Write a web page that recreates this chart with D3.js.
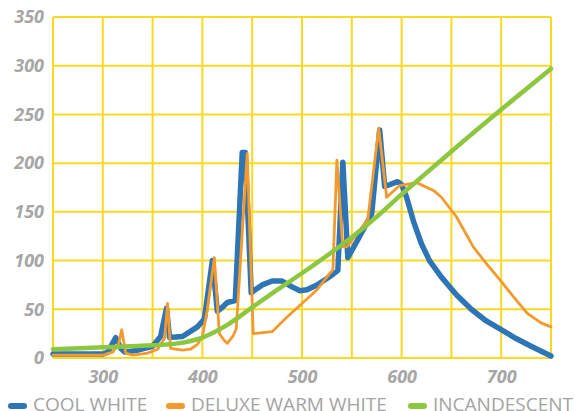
<!DOCTYPE html>
<html>
<head>
<meta charset="utf-8">
<script src="https://cdn.jsdelivr.net/npm/d3@7"></script>
<style>
  body { margin: 0; background: #fff; }
  svg { display: block; }
</style>
</head>
<body>
<svg id="chart" width="575" height="411"></svg>
<script>
const width = 575;
const height = 411;

// wavelengths (nm) and relative power
const coolNm = [250, 300, 305, 313, 318, 322, 335, 350, 358, 364, 367, 380, 395, 402, 410, 415, 420, 425, 433, 440, 443, 449, 460, 470, 480, 490, 498, 505, 515, 530, 536, 541, 546, 558, 570, 578, 583, 596, 600, 605, 612, 620, 628, 640, 655, 670, 685, 700, 715, 730, 750];
const coolVal = [4, 4, 6, 21, 10, 6, 8, 12, 22, 51, 21, 22, 32, 40, 100, 48, 52, 57, 59, 211, 211, 67, 75, 79, 79, 73, 69, 70, 75, 85, 90, 201, 103, 125, 148, 234, 176, 181, 178, 165, 140, 117, 100, 83, 65, 50, 38, 29, 20, 12, 2];

const warmNm = [250, 300, 310, 316, 319, 323, 330, 345, 355, 362, 365, 368, 380, 388, 395, 400, 405, 412, 417, 422, 425, 431, 434, 445, 451, 470, 485, 500, 515, 528, 531, 535, 541, 545, 566, 577, 585, 598, 615, 632, 640, 655, 672, 685, 699, 713, 726, 740, 750];
const warmVal = [3, 3, 6, 15, 29, 5, 3, 5, 9, 20, 56, 10, 8, 9, 14, 22, 50, 103, 25, 18, 15, 23, 30, 210, 25, 27, 42, 56, 70, 87, 90, 203, 114, 114, 142, 236, 165, 177, 180, 172, 165, 145, 114, 97, 80, 62, 46, 36, 32];

const incNm = [250, 300, 350, 375, 400, 425, 450, 475, 500, 525, 550, 575, 600, 625, 650, 700, 750];
const incVal = [9, 11, 13, 15, 21, 34, 52, 70, 87, 105, 124, 145, 168, 190, 212, 255, 297];

const xTicks = [300, 400, 500, 600, 700];
const yTicks = [0, 50, 100, 150, 200, 250, 300, 350];

const seriesNames = ["COOL WHITE", "DELUXE WARM WHITE", "INCANDESCENT"];
const seriesColors = ["#2e75b6", "#f39a2e", "#8dc63f"];

const svg = d3.select("#chart");

const x = d3.scaleLinear().domain([250, 750]).range([53, 551]);
const y = d3.scaleLinear().domain([0, 350]).range([358, 17]);

// grid
const gridColor = "#f8d923";
svg.append("g")
  .selectAll("line")
  .data(d3.range(250, 751, 50))
  .join("line")
  .attr("x1", (d) => x(d))
  .attr("x2", (d) => x(d))
  .attr("y1", y(350))
  .attr("y2", y(0))
  .attr("stroke", gridColor)
  .attr("stroke-width", 2);

svg.append("g")
  .selectAll("line")
  .data(yTicks)
  .join("line")
  .attr("x1", x(250))
  .attr("x2", x(750))
  .attr("y1", (d) => y(d))
  .attr("y2", (d) => y(d))
  .attr("stroke", gridColor)
  .attr("stroke-width", 2);

// axes (labels only)
const tickStyle = (g) => {
  g.select(".domain").remove();
  g.selectAll(".tick line").remove();
  g.selectAll(".tick text")
    .attr("fill", "#a6a6a6")
    .style("font-family", "'Open Sans', sans-serif")
    .style("font-size", "18px")
    .style("font-weight", "bold")
    .style("font-style", "italic");
};

svg.append("g")
  .attr("transform", "translate(0," + y(0) + ")")
  .call(d3.axisBottom(x).tickValues(xTicks).tickSize(0).tickPadding(12))
  .call(tickStyle);

svg.append("g")
  .attr("transform", "translate(" + x(250) + ",0)")
  .call(d3.axisLeft(y).tickValues(yTicks).tickSize(0).tickPadding(9))
  .call(tickStyle);

// lines
const line = d3.line()
  .x((d) => x(d[0]))
  .y((d) => y(d[1]));

const series = [
  { nm: coolNm, val: coolVal, width: 5.5 },
  { nm: warmNm, val: warmVal, width: 2.8 },
  { nm: incNm, val: incVal, width: 4.5, smooth: true },
];

series.forEach((s, i) => {
  const pts = s.nm.map((n, j) => [n, s.val[j]]);
  svg.append("path")
    .datum(pts)
    .attr("fill", "none")
    .attr("stroke", seriesColors[i])
    .attr("stroke-width", s.width)
    .attr("stroke-linejoin", "round")
    .attr("stroke-linecap", "round")
    .attr("d", s.smooth ? line.curve(d3.curveMonotoneX)(pts) : line.curve(d3.curveLinear)(pts));
});

// legend
const legendX = [8, 166, 408];
const legend = svg.append("g")
  .selectAll("g")
  .data(seriesNames)
  .join("g")
  .attr("transform", (d, i) => "translate(" + legendX[i] + ",0)");

legend.append("rect")
  .attr("x", 0)
  .attr("y", 403)
  .attr("width", 19)
  .attr("height", 6)
  .attr("rx", 3)
  .attr("fill", (d, i) => seriesColors[i]);

legend.append("text")
  .attr("x", 25)
  .attr("y", 411)
  .attr("fill", "#a3a3a3")
  .style("font-family", "'Open Sans', sans-serif")
  .style("font-size", "19px")
  .text((d) => d);
</script>
</body>
</html>
